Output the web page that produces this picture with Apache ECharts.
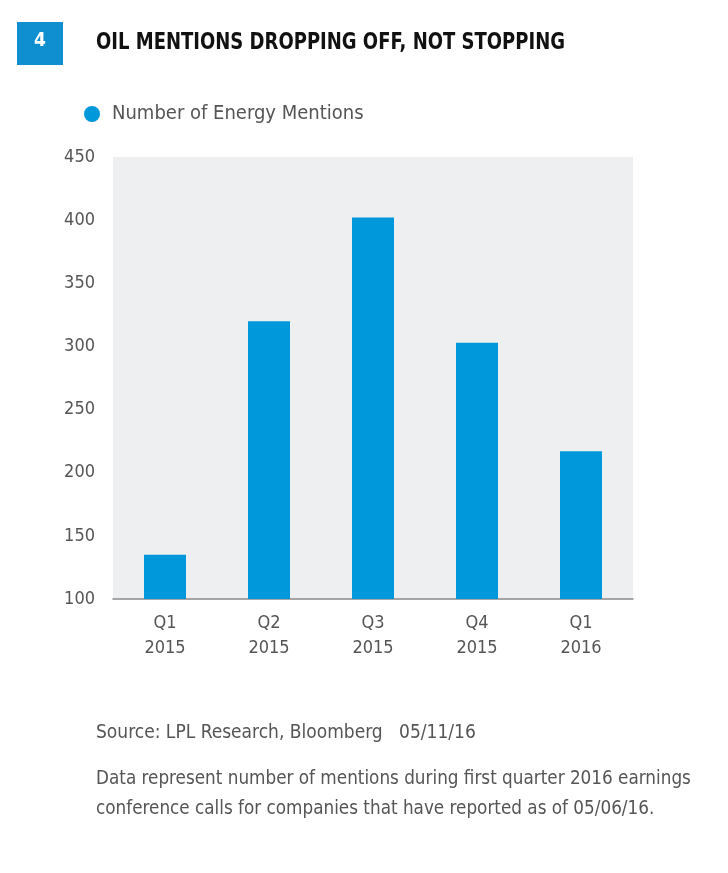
<!DOCTYPE html>
<html><head><meta charset="utf-8">
<script src="https://cdn.jsdelivr.net/npm/echarts@6/dist/echarts.min.js"></script>
<style>html,body{margin:0;padding:0;background:#fff}#c{width:728px;height:873px}</style>
</head><body><div id="c"></div>
<script>
var categories = ['Q1\n2015', 'Q2\n2015', 'Q3\n2015', 'Q4\n2015', 'Q1\n2016'];
var mentions = [135, 320, 402, 303, 217];
var seriesName = 'Number of Energy Mentions';
var yTicks = {min: 100, max: 450, interval: 50};
var FONT = '"Liberation Sans Narrow","DejaVu Sans Condensed","Roboto",sans-serif';
var chart = echarts.init(document.getElementById('c'));
chart.setOption({
  backgroundColor: '#ffffff',
  animation: false,
  graphic: [
    {type: 'rect', left: 17, top: 22, shape: {width: 46, height: 43}, style: {fill: '#0f8fd0'}},
    {type: 'text', x: 34, y: 32, style: {text: '4', fill: '#fff', font: 'bold 19px ' + FONT}},
    {type: 'text', x: 96, y: 32, scaleX: 0.87, style: {text: 'OIL MENTIONS DROPPING OFF, NOT STOPPING', fill: '#111', font: 'bold 23px ' + FONT}},
    {type: 'text', x: 96, y: 724, style: {text: 'Source: LPL Research, Bloomberg   05/11/16', fill: '#555', font: '19px ' + FONT}},
    {type: 'text', x: 96, y: 764, scaleX: 0.985, style: {text: 'Data represent number of mentions during first quarter 2016 earnings\nconference calls for companies that have reported as of 05/06/16.', fill: '#555', font: '19px ' + FONT, lineHeight: 30}}
  ],
  legend: {
    left: 79, top: 99, icon: 'circle', itemWidth: 16, itemHeight: 16, itemGap: 10,
    textStyle: {color: '#555', fontSize: 20, fontFamily: FONT, padding: [0, 0, 0, 7]},
    data: [seriesName]
  },
  grid: {left: 113, right: 95, top: 157, bottom: 274, show: true, backgroundColor: '#eeeff1', borderWidth: 0},
  xAxis: {
    type: 'category', data: categories,
    axisLine: {lineStyle: {color: '#8a8a8a', width: 1.5}},
    axisTick: {show: false},
    axisLabel: {color: '#555', fontSize: 18, fontFamily: FONT, lineHeight: 25, margin: 12}
  },
  yAxis: {
    type: 'value', min: yTicks.min, max: yTicks.max, interval: yTicks.interval,
    axisLine: {show: false}, axisTick: {show: false}, splitLine: {show: false},
    axisLabel: {color: '#555', fontSize: 18, fontFamily: FONT, margin: 18}
  },
  series: [{
    name: seriesName, type: 'bar', data: mentions, barWidth: 42,
    itemStyle: {color: '#0098da'}
  }]
});
</script></body></html>
